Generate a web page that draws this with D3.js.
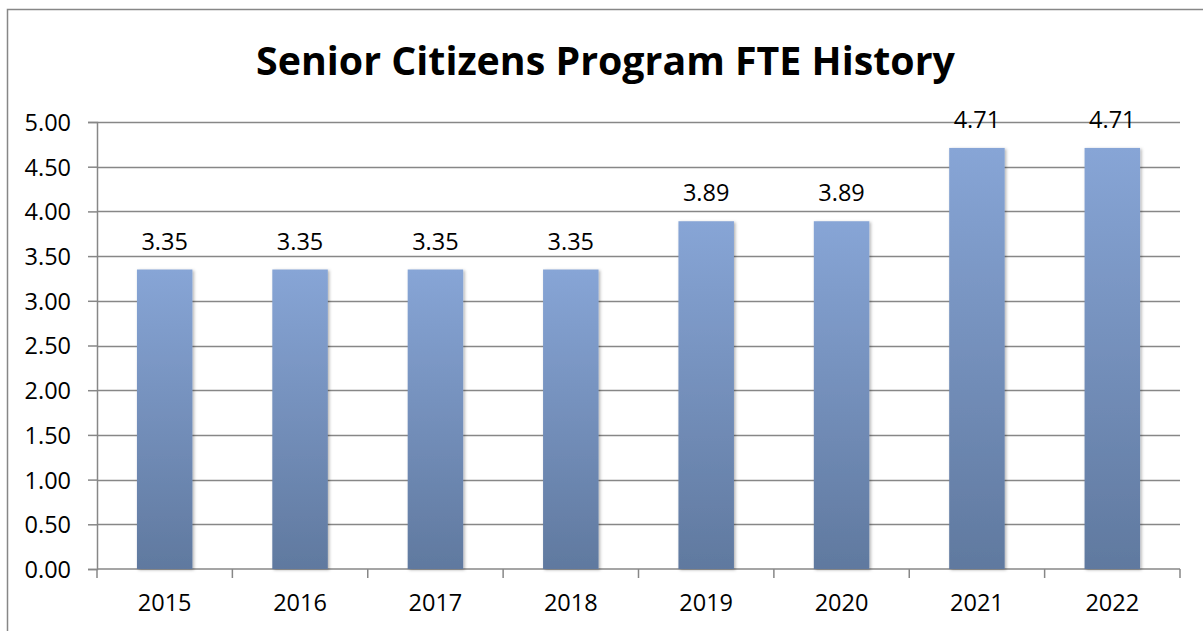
<!DOCTYPE html>
<html>
<head>
<meta charset="utf-8">
<script src="https://cdnjs.cloudflare.com/ajax/libs/d3/7.8.5/d3.min.js"></script>
<style>
body { margin: 0; background: #fff; }
text { font-family: "Open Sans", sans-serif; fill: #000; }
</style>
</head>
<body>
<div id="chart"></div>
<script>
// chart data
var years = ["2015", "2016", "2017", "2018", "2019", "2020", "2021", "2022"];
var fte = [3.35, 3.35, 3.35, 3.35, 3.89, 3.89, 4.71, 4.71];
var yTicks = [0, 0.5, 1, 1.5, 2, 2.5, 3, 3.5, 4, 4.5, 5];
var title = "Senior Citizens Program FTE History";

var W = 1203, H = 631;
var plot = { left: 97, right: 1180, top: 122, bottom: 569 };
var grey = "#878787";
var labelSize = "23.5px";

var svg = d3.select("#chart").append("svg")
    .attr("width", W)
    .attr("height", H);

var defs = svg.append("defs");
var grad = defs.append("linearGradient")
    .attr("id", "barGrad")
    .attr("x1", 0).attr("y1", 0).attr("x2", 0).attr("y2", 1);
grad.append("stop").attr("offset", "0%").attr("stop-color", "#87a5d6");
grad.append("stop").attr("offset", "100%").attr("stop-color", "#60799f");

var shadow = defs.append("filter").attr("id", "shadow")
    .attr("x", "-20%").attr("y", "-5%").attr("width", "140%").attr("height", "110%");
shadow.append("feDropShadow")
    .attr("dx", 1.5).attr("dy", 1).attr("stdDeviation", 1.5)
    .attr("flood-color", "#000").attr("flood-opacity", 0.3);

// outer frame (right and bottom run off the picture)
svg.append("path")
    .attr("d", "M7.5," + H + " V9.5 H" + W)
    .attr("fill", "none")
    .attr("stroke", grey)
    .attr("stroke-width", 1.5);

var x = d3.scaleBand()
    .domain(years)
    .range([plot.left, plot.right])
    .paddingInner(0.59)
    .paddingOuter(0.295);

var band = d3.scaleBand()
    .domain(years)
    .range([plot.left, plot.right]);

var y = d3.scaleLinear()
    .domain([0, 5])
    .range([plot.bottom, plot.top]);

// y axis
var yAxis = d3.axisLeft(y)
    .tickValues(yTicks)
    .tickSize(plot.left - 88)
    .tickFormat(d3.format(".2f"));

var gy = svg.append("g")
    .attr("transform", "translate(" + plot.left + ",0)")
    .call(yAxis);
gy.select(".domain").attr("stroke", grey).attr("stroke-width", 1.5);
gy.selectAll(".tick line").attr("stroke", grey).attr("stroke-width", 1.5);
gy.selectAll(".tick text")
    .attr("x", 71 - plot.left)
    .attr("dy", "0.36em")
    .style("font-size", labelSize)
    .attr("fill", "#000");

// gridlines
svg.append("g").selectAll("line")
    .data(yTicks.filter(function(d) { return d > 0; }))
    .join("line")
    .attr("x1", plot.left)
    .attr("x2", plot.right)
    .attr("y1", function(d) { return Math.round(y(d)) + 0.5; })
    .attr("y2", function(d) { return Math.round(y(d)) + 0.5; })
    .attr("stroke", grey)
    .attr("stroke-width", 1.5);

// x axis, ticks at category boundaries
var gx = svg.append("g")
    .attr("transform", "translate(0," + plot.bottom + ")");
gx.append("line")
    .attr("x1", plot.left).attr("x2", plot.right)
    .attr("stroke", grey).attr("stroke-width", 1.5);
var bounds = years.map(function(d) { return band(d); }).concat([plot.right]);
gx.selectAll(".xt").data(bounds).join("line")
    .attr("class", "xt")
    .attr("x1", function(d) { return d; })
    .attr("x2", function(d) { return d; })
    .attr("y1", 0).attr("y2", 9)
    .attr("stroke", grey).attr("stroke-width", 1.5);
gx.selectAll(".xl").data(years).join("text")
    .attr("class", "xl")
    .attr("x", function(d) { return band(d) + band.bandwidth() / 2; })
    .attr("y", 42)
    .attr("text-anchor", "middle")
    .style("font-size", labelSize)
    .text(function(d) { return d; });

// bars
var data = years.map(function(d, i) { return { year: d, value: fte[i] }; });

svg.append("g").selectAll("rect")
    .data(data)
    .join("rect")
    .attr("x", function(d) { return x(d.year); })
    .attr("width", x.bandwidth())
    .attr("y", function(d) { return y(d.value); })
    .attr("height", function(d) { return y(0) - y(d.value); })
    .attr("fill", "url(#barGrad)")
    .attr("filter", "url(#shadow)");

// value labels
svg.append("g").selectAll("text")
    .data(data)
    .join("text")
    .attr("x", function(d) { return x(d.year) + x.bandwidth() / 2; })
    .attr("y", function(d) { return y(d.value) - 20; })
    .attr("text-anchor", "middle")
    .style("font-size", labelSize)
    .text(function(d) { return d.value.toFixed(2); });

// title, sized to match original width
var t = svg.append("text")
    .attr("x", 605.5)
    .attr("y", 75)
    .attr("text-anchor", "middle")
    .style("font-weight", "bold")
    .style("font-size", "40px")
    .text(title);
var len = t.node().getComputedTextLength();
t.style("font-size", (40 * 699 / len) + "px");
</script>
</body>
</html>
